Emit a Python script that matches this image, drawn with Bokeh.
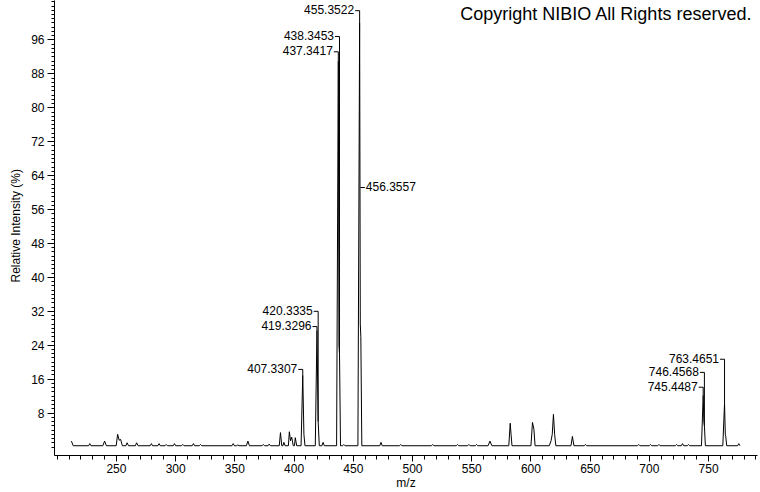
import math
from bokeh.plotting import figure
from bokeh.models import (Range1d, FixedTicker, ColumnDataSource, LabelSet, Label, Title)
from bokeh.core.properties import value
from bokeh.embed import file_html
from bokeh.resources import INLINE

# ---- profile spectrum (m/z, relative intensity %) ----
profile_mz = [212.0, 213.5, 226.5, 227.5, 228.5, 238.5, 240.0, 241.5, 249.8, 251.0,
              252.3, 253.5, 255.0, 258.0, 259.0, 260.2, 266.0, 267.0, 268.3, 278.5,
              279.5, 280.5, 285.0, 286.0, 287.0, 291.0, 292.0, 293.0, 298.0, 299.0,
              300.0, 305.0, 306.0, 307.0, 314.0, 315.0, 316.0, 320.0, 321.0, 322.0,
              347.6, 348.6, 349.6, 351.5, 352.5, 353.5, 359.7, 361.0, 362.3, 373.0,
              374.0, 375.0, 378.0, 379.0, 380.0, 387.5, 388.5, 389.6, 390.6, 391.4,
              392.4, 395.2, 396.0, 397.0, 398.0, 399.3, 400.3, 401.0, 402.2, 405.9,
              407.33, 408.3, 409.2, 417.9, 419.33, 420.33, 421.3, 423.5, 424.5, 425.5,
              435.9, 437.34, 437.9, 438.35, 439.2, 441.0, 442.0, 443.0, 453.9, 455.35,
              455.9, 456.36, 457.2, 472.4, 473.4, 474.4, 489.0, 490.0, 491.0, 516.0,
              517.0, 518.0, 537.0, 538.0, 539.0, 546.6, 547.6, 548.6, 553.0, 554.0,
              555.0, 563.8, 565.4, 567.0, 581.3, 582.5, 583.2, 584.0, 600.0, 601.3,
              602.5, 603.5, 615.5, 617.0, 618.0, 619.0, 620.0, 621.0, 633.8, 635.0,
              636.3, 645.0, 646.0, 647.0, 690.0, 691.0, 692.0, 700.0, 701.0, 702.0,
              707.0, 708.0, 709.0, 722.0, 723.0, 724.0, 727.0, 728.0, 729.0, 732.0,
              733.0, 734.0, 744.0, 745.45, 746.0, 746.46, 747.3, 762.0, 763.47, 764.1,
              764.5, 765.3, 774.5, 775.5, 776.5]
profile_int = [1.4, 0.3, 0.3, 0.8, 0.3, 0.3, 1.4, 0.3, 0.3, 3.0,
               1.6, 1.8, 0.3, 0.3, 1.0, 0.3, 0.3, 1.0, 0.3, 0.3,
               0.8, 0.3, 0.3, 0.8, 0.3, 0.3, 0.6, 0.3, 0.3, 0.8,
               0.3, 0.3, 0.6, 0.3, 0.3, 0.8, 0.3, 0.3, 0.6, 0.3,
               0.3, 0.8, 0.3, 0.3, 0.5, 0.3, 0.3, 1.4, 0.3, 0.3,
               0.6, 0.3, 0.3, 0.7, 0.3, 0.3, 3.4, 0.3, 0.3, 1.1,
               0.3, 0.3, 3.6, 1.5, 2.3, 0.3, 0.3, 2.2, 0.3, 0.3,
               16.9, 3.0, 0.3, 0.3, 27.5, 6.0, 0.3, 0.3, 1.1, 0.3,
               0.3, 91.0, 24.0, 22.0, 0.3, 0.3, 0.6, 0.3, 0.3, 100.0,
               29.0, 26.0, 0.3, 0.3, 1.1, 0.3, 0.3, 0.6, 0.3, 0.3,
               0.6, 0.3, 0.3, 0.6, 0.3, 0.3, 0.6, 0.3, 0.3, 0.6,
               0.3, 0.3, 1.4, 0.3, 0.3, 5.6, 3.0, 0.3, 0.3, 5.8,
               4.2, 0.3, 0.3, 1.5, 3.0, 7.7, 3.0, 0.3, 0.3, 2.5,
               0.3, 0.3, 0.6, 0.3, 0.3, 0.6, 0.3, 0.3, 0.6, 0.3,
               0.3, 0.6, 0.3, 0.3, 0.6, 0.3, 0.3, 0.8, 0.3, 0.3,
               0.6, 0.3, 0.3, 12.2, 6.0, 5.0, 0.3, 0.3, 10.3, 3.0,
               2.5, 0.3, 0.3, 0.8, 0.3]

# ---- annotated peaks ----
label_mz = [407.3307, 419.3296, 420.3335, 437.3417, 438.3453, 455.3522,
            456.3557, 745.4487, 746.4568, 763.4651]
label_text = ["407.3307", "419.3296", "420.3335", "437.3417", "438.3453", "455.3522",
              "456.3557", "745.4487", "746.4568", "763.4651"]
label_level = [18.3, 28.4, 32.0, 93.2, 96.8, 102.9, 61.2, 14.1, 17.6, 20.7]
label_peak = [16.9, 27.5, 6.0, 91.0, 22.0, 100.0, 61.2, 12.2, 5.0, 10.3]
label_side = ["left", "left", "left", "left", "left", "left", "right", "left", "left", "left"]

x_major = [250, 300, 350, 400, 450, 500, 550, 600, 650, 700, 750]
x_minor = list(range(200, 800, 10))
y_major = [8, 16, 24, 32, 40, 48, 56, 64, 72, 80, 88, 96]
y_minor = list(range(0, 106, 1))

FONT = "Liberation Sans"

p = figure(width=760, height=492, output_backend="svg", toolbar_location=None,
           x_range=Range1d(197.7, 791.3), y_range=Range1d(-2.0, 105.3),
           min_border_left=53, min_border_right=3, min_border_top=0,
           min_border_bottom=37)
p.outline_line_color = None
p.xgrid.visible = False
p.ygrid.visible = False
p.background_fill_color = "white"
p.border_fill_color = "white"

# axes
xa = p.xaxis[0]
xa.ticker = FixedTicker(ticks=x_major, minor_ticks=x_minor)
xa.axis_label = "m/z"
xa.axis_label_text_font = FONT
xa.axis_label_text_font_size = "12px"
xa.axis_label_text_font_style = "normal"
xa.axis_label_standoff = 0
xa.major_label_text_font = FONT
xa.major_label_text_font_size = "12px"
xa.major_label_standoff = 2
xa.major_tick_out = 6
xa.major_tick_in = 0
xa.minor_tick_out = 4
xa.minor_tick_in = 0
xa.axis_line_color = "black"
xa.major_tick_line_color = "black"
xa.minor_tick_line_color = "black"
xa.major_label_text_color = "black"
xa.axis_label_text_color = "black"

ya = p.yaxis[0]
ya.ticker = FixedTicker(ticks=y_major, minor_ticks=y_minor)
ya.major_label_text_font = FONT
ya.major_label_text_font_size = "12px"
ya.major_label_standoff = 3
ya.major_tick_out = 7
ya.major_tick_in = 0
ya.minor_tick_out = 3
ya.minor_tick_in = 0
ya.axis_line_color = "black"
ya.major_tick_line_color = "black"
ya.minor_tick_line_color = "black"
ya.major_label_text_color = "black"

# y axis title as a side title so it can be shifted along the axis
p.add_layout(Title(text="Relative Intensity (%)", align="left", offset=173,
                   standoff=12, text_font=FONT, text_font_size="12px",
                   text_font_style="normal", text_color="black"), "left")

# spectrum
p.line(profile_mz, profile_int, line_color="black", line_width=1)

# leader lines
tick_dx = 3.8
xs, ys = [], []
for mz, lv, pk, side in zip(label_mz, label_level, label_peak, label_side):
    if side == "left":
        xs.append([mz - tick_dx, mz, mz])
        ys.append([lv, lv, pk])
    else:
        xs.append([mz - 0.4, mz + tick_dx - 0.4])
        ys.append([lv, lv])
p.multi_line(xs, ys, line_color="black", line_width=1)

left_idx = [i for i, s in enumerate(label_side) if s == "left"]
right_idx = [i for i, s in enumerate(label_side) if s == "right"]
src_l = ColumnDataSource(dict(x=[label_mz[i] - tick_dx for i in left_idx],
                              y=[label_level[i] for i in left_idx],
                              t=[label_text[i] for i in left_idx]))
src_r = ColumnDataSource(dict(x=[label_mz[i] + tick_dx - 0.4 for i in right_idx],
                              y=[label_level[i] for i in right_idx],
                              t=[label_text[i] for i in right_idx]))
p.add_layout(LabelSet(x="x", y="y", text="t", source=src_l, text_align="right",
                      text_baseline="middle", x_offset=-1, y_offset=1,
                      text_font=value(FONT), text_font_size=value("12px"),
                      text_color="black"))
p.add_layout(LabelSet(x="x", y="y", text="t", source=src_r, text_align="left",
                      text_baseline="middle", x_offset=1, y_offset=1,
                      text_font=value(FONT), text_font_size=value("12px"),
                      text_color="black"))

# copyright
p.add_layout(Label(x=787.0, y=102.0, text="Copyright NIBIO All Rights reserved.",
                   text_align="right", text_baseline="middle", text_font=FONT,
                   text_font_size="18px", text_color="black"))

open("out.html", "w").write(file_html(p, INLINE))
